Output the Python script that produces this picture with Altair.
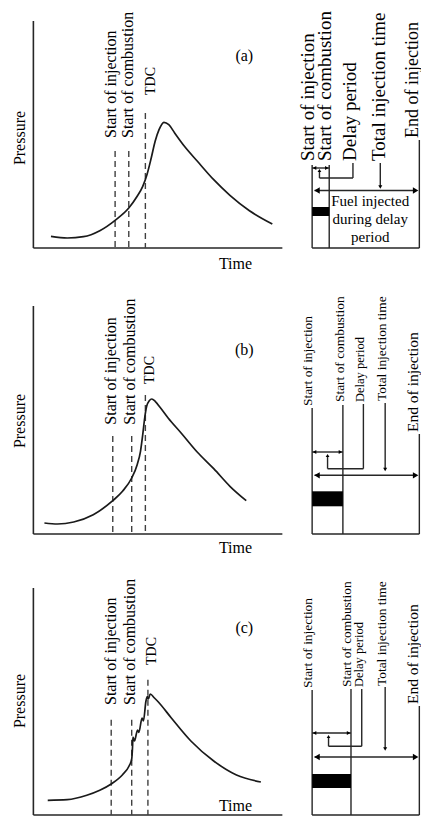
import altair as alt
import pandas as pd

# ---------------- canvas (diagram units = reference pixels) ----------------
X_DOMAIN = [6, 429]
Y_DOMAIN = [10, 824]
PLOT_W = 413
PLOT_H = 814

# ---------------- pressure curves (time, pressure) ----------------
curve_a_t = [50, 66.7, 83.3, 100, 115.7, 129.7, 138.3, 144, 148.3, 152.7, 156.7, 160.7, 165.7,
             170.7, 176.7, 186.7, 200, 216.7, 233.3, 253.3, 276.7]
curve_a_p = [238.3, 240, 238.7, 232.7, 222.3, 210, 198.3, 188.3, 176.7, 160, 143.3, 131.7, 124.3,
             126.7, 135, 148.3, 163.3, 181.7, 197.3, 212.7, 226]

curve_b_t = [43.3, 56.7, 73.3, 93.3, 113.3, 123.3, 132.7, 138.3, 141.7, 144, 146, 148, 150.7,
             153.3, 156.7, 161.7, 170, 183.3, 200, 216.7, 233.3, 250]
curve_b_p = [525, 526, 524, 516.7, 502.7, 493.3, 480, 466.7, 453.3, 436.7, 420, 408.3, 402.7,
             401, 403.3, 409.3, 420, 435, 454.3, 470.7, 488.3, 502.7]

curve_c_t = [46.7, 66.7, 86.7, 100, 111.7, 123.3, 130, 132.7, 133.5, 134, 135.5, 138.7, 140,
             143.3, 144.7, 147.3, 148.7, 149.7, 151.7, 156, 160, 173.3, 193.3, 216.7, 240, 265]
curve_c_p = [802.3, 801.7, 797.3, 792.3, 786, 776.7, 768, 761, 750, 739, 743, 732, 734.5,
             720, 723, 703, 698.5, 701, 696, 700, 704, 720, 743, 763, 777, 784]

# ---------------- axes of the pressure plots ----------------
axis_x_left = [32, 32, 32]
axis_x_right = [287, 287, 287]
axis_top = [23, 308, 590]
axis_bottom = [250, 536, 817]

# ---------------- dashed event lines (start of injection, start of combustion, TDC) ----------------
dash_x = [115.7, 129.7, 146.7, 113.3, 132.7, 146.7, 111.7, 132.7, 149.3]
dash_top = [153, 153, 115, 438, 438, 397, 721.7, 721.7, 681.7]
dash_bottom = [250, 250, 250, 536, 536, 536, 817, 817, 817]

# ---------------- texts ----------------
event_labels = ["Start of injection", "Start of combustion"] * 3
event_x = [111.7, 129, 111.7, 130.5, 111.7, 130.5]
event_y = [140, 140, 426.7, 426.7, 707, 707]

tdc_x = [152, 151.7, 153.5]
tdc_y = [97, 386, 667]

pressure_x = [18, 18, 18]
pressure_y = [140, 423, 703]

# the last "Time" sits just above its axis so that it stays on the page
time_x = [239, 239, 239]
time_y = [271, 555, 813]

tag_labels = ["(a)", "(b)", "(c)"]
tag_x = [248, 248, 248]
tag_y = [58, 352, 630]

# injection-schedule labels: panel (a) is drawn taller than (b) and (c)
sched_a_labels = ["Start of injection", "Start of combustion", "Delay period",
                  "Total injection time"]
sched_a_x = [313.3, 330.5, 356.7, 386]
sched_a_y = [163, 163, 163, 163]

end_a_x = [420.5]
end_a_y = [140]

sched_bc_labels = ["Start of injection", "Start of combustion",
                   "Total injection time"] * 2
sched_bc_x = [313.3, 345.7, 389.5,
              313.3, 353.5, 389.5]
sched_bc_y = [408, 404, 403,
              690, 689, 688]

end_bc_x = [420.5, 420.5]
end_bc_y = [434, 706]

delay_bc_x = [366.5, 365.5]
delay_bc_y = [404, 689]

fuel_lines = ["Fuel injected", "during delay", "period"]
fuel_x = [377, 377, 377]
fuel_y = [203, 221, 238.5]

# ---------------- injection schedule lines (x1, y1, x2, y2) ----------------
seg_x1 = [317.5, 335, 427.3, 317.5, 317.5, 359.3, 325, 325, 387.3, 320,
          317.5, 349, 427.3, 317.5, 317.5, 370, 333.3, 333.3, 392.3, 320,
          317.5, 357.3, 427.3, 317.5, 317.5, 368.3, 334.3, 334.3, 392.3, 320]
seg_y1 = [167, 167, 142, 250, 170, 165, 180, 174, 165, 192.5,
          410, 407, 436, 536, 454, 406, 470.7, 459, 405, 477.3,
          692, 691, 708, 817, 735, 691, 748.3, 740, 689, 759]
seg_x2 = [317.5, 335, 427.3, 427.3, 335, 359.3, 359.3, 325, 387.3, 424,
          317.5, 349, 427.3, 427.3, 349, 370, 370, 333.3, 392.3, 424,
          317.5, 357.3, 427.3, 427.3, 357.3, 368.3, 368.3, 334.3, 392.3, 424]
seg_y2 = [250, 250, 250, 250, 170, 180, 180, 180, 189, 192.5,
          536, 536, 536, 536, 454, 470.7, 470.7, 470.7, 471, 477.3,
          817, 817, 817, 817, 735, 748.3, 748.3, 748.3, 750, 759]

# fuel injected during the delay period (black blocks)
block_x1 = [317.5, 317.5, 317.5]
block_x2 = [335, 349, 357.3]
block_y1 = [209, 493.3, 776]
block_y2 = [218, 508.3, 790]

# arrow heads
small_left_x = [320, 320, 320]
small_left_y = [170, 454, 735]
small_right_x = [332.5, 346.5, 354.8]
small_right_y = [170, 454, 735]
small_up_x = [325, 333.3, 334.3]
small_up_y = [172.5, 457.5, 738.5]
small_down_x = [387.3, 392.3, 392.3]
small_down_y = [189, 471.5, 751]
big_left_x = [322.5, 322.5, 322.5]
big_left_y = [192.5, 477.3, 759]
big_right_x = [423.5, 423.5, 423.5]
big_right_y = [192.5, 477.3, 759]

# ---------------- build tables ----------------
curves = pd.concat([
    pd.DataFrame({"x": curve_a_t, "y": curve_a_p, "panel": "a", "i": range(len(curve_a_t))}),
    pd.DataFrame({"x": curve_b_t, "y": curve_b_p, "panel": "b", "i": range(len(curve_b_t))}),
    pd.DataFrame({"x": curve_c_t, "y": curve_c_p, "panel": "c", "i": range(len(curve_c_t))}),
])
axes_df = pd.concat([
    pd.DataFrame({"x": axis_x_left, "x2": axis_x_left, "y": axis_top, "y2": axis_bottom}),
    pd.DataFrame({"x": axis_x_left, "x2": axis_x_right, "y": axis_bottom, "y2": axis_bottom}),
])
dash_df = pd.DataFrame({"x": dash_x, "x2": dash_x, "y": dash_top, "y2": dash_bottom})
seg_df = pd.DataFrame({"x": seg_x1, "y": seg_y1, "x2": seg_x2, "y2": seg_y2})
block_df = pd.DataFrame({"x": block_x1, "x2": block_x2, "y": block_y1, "y2": block_y2})

xs = alt.Scale(domain=X_DOMAIN, nice=False, zero=False)
ys = alt.Scale(domain=Y_DOMAIN, nice=False, zero=False, reverse=True)
X = lambda f="x": alt.X(f"{f}:Q", scale=xs, axis=None)
Y = lambda f="y": alt.Y(f"{f}:Q", scale=ys, axis=None)

INK = "#262626"
SERIF = "Liberation Serif"

axes_layer = alt.Chart(axes_df).mark_rule(color=INK, strokeWidth=1.6).encode(
    x=X(), x2="x2:Q", y=Y(), y2="y2:Q")
dash_layer = alt.Chart(dash_df).mark_rule(color="#404040", strokeWidth=1.4, strokeDash=[6, 4]).encode(
    x=X(), x2="x2:Q", y=Y(), y2="y2:Q")
curve_layer = alt.Chart(curves).mark_line(color="#1a1a1a", strokeWidth=1.7, interpolate="monotone").encode(
    x=X(), y=Y(), detail="panel:N", order="i:Q")
seg_layer = alt.Chart(seg_df).mark_rule(color=INK, strokeWidth=1.4).encode(
    x=X(), x2="x2:Q", y=Y(), y2="y2:Q")
block_layer = alt.Chart(block_df).mark_rect(color="black").encode(
    x=X(), x2="x2:Q", y=Y(), y2="y2:Q")


def heads(xv, yv, shape, size):
    return alt.Chart(pd.DataFrame({"x": xv, "y": yv})).mark_point(
        shape=shape, size=size, filled=True, color="black", opacity=1, strokeWidth=0
    ).encode(x=X(), y=Y())


arrow_layers = [
    heads(small_left_x, small_left_y, "triangle-left", 16),
    heads(small_right_x, small_right_y, "triangle-right", 16),
    heads(small_up_x, small_up_y, "triangle-up", 14),
    heads(small_down_x, small_down_y, "triangle-down", 16),
    heads(big_left_x, big_left_y, "triangle-left", 40),
    heads(big_right_x, big_right_y, "triangle-right", 40),
]


def texts(labels, xv, yv, size, angle=0, align="center", baseline="middle", weight="normal"):
    return alt.Chart(pd.DataFrame({"t": labels, "x": xv, "y": yv})).mark_text(
        font=SERIF, fontSize=size, angle=angle, align=align, baseline=baseline,
        color="black", fontWeight=weight
    ).encode(x=X(), y=Y(), text="t:N")


text_layers = [
    texts(event_labels, event_x, event_y, 16, angle=270, align="left"),
    texts(["TDC"] * 3, tdc_x, tdc_y, 14, angle=270, align="left"),
    texts(["Pressure"] * 3, pressure_x, pressure_y, 16, angle=270),
    texts(["Time"] * 3, time_x, time_y, 16, baseline="alphabetic"),
    texts(tag_labels, tag_x, tag_y, 16),
    texts(sched_a_labels, sched_a_x, sched_a_y, 19, angle=270, align="left"),
    texts(["End of injection"], end_a_x, end_a_y, 18, angle=270, align="left"),
    texts(sched_bc_labels, sched_bc_x, sched_bc_y, 13.4, angle=270, align="left"),
    texts(["End of injection"] * 2, end_bc_x, end_bc_y, 15.5, angle=270, align="left"),
    texts(["Delay period"] * 2, delay_bc_x, delay_bc_y, 12.5, angle=270, align="left"),
    texts(fuel_lines, fuel_x, fuel_y, 15),
]

chart = alt.layer(
    axes_layer, dash_layer, curve_layer, seg_layer, block_layer, *arrow_layers, *text_layers
).properties(
    width=PLOT_W,
    height=PLOT_H,
    padding=0,
    autosize=alt.AutoSizeParams(type="none"),
    background="white",
).configure_view(stroke=None)

chart.save("out.html", embed_options={"renderer": "svg", "actions": False})
